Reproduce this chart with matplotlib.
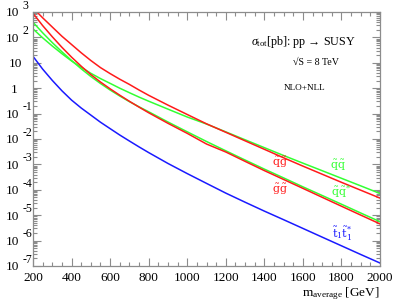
import matplotlib
matplotlib.use("Agg")
import matplotlib.pyplot as plt
from matplotlib.ticker import MultipleLocator, LogLocator, NullFormatter

plt.rcParams["font.family"] = ["Liberation Serif", "DejaVu Serif"]
plt.rcParams["mathtext.fontset"] = "custom"
plt.rcParams["mathtext.rm"] = "Liberation Serif"
plt.rcParams["mathtext.it"] = "Liberation Serif:italic"
plt.rcParams["mathtext.bf"] = "Liberation Serif:bold"

# m_average [GeV]
mass = [200, 250, 300, 350, 400, 450, 500, 550, 600, 650, 700, 750, 800, 900, 1000,
        1100, 1200, 1300, 1400, 1500, 1600, 1700, 1800, 1900, 2000]

# sigma_tot [pb]
xs_sqgl = [1435, 592, 256, 111, 52.5, 24.8, 12.3, 6.47, 3.76, 2.26, 1.41, 0.849, 0.525,
           0.216, 0.0923, 0.0396, 0.0184, 0.00849, 0.00393, 0.00182, 8.57e-4, 4.11e-4,
           1.97e-4, 9.64e-5, 4.71e-5]
xs_sqsq = [216, 96.4, 45.8, 22.8, 11.8, 6.65, 3.86, 2.39, 1.55, 1.00, 0.665, 0.447, 0.308,
           0.150, 0.0735, 0.0389, 0.0191, 0.00933, 0.00457, 0.00224, 0.00112, 5.65e-4,
           2.84e-4, 1.43e-4, 7.14e-5]
xs_glgl = [889, 292, 106, 40.7, 16.7, 7.35, 3.43, 1.75, 0.946, 0.530, 0.305, 0.180, 0.108,
           0.0415, 0.0167, 0.00635, 0.00308, 0.00132, 5.70e-4, 2.55e-4, 1.14e-4, 5.07e-5,
           2.26e-5, 1.01e-5, 4.54e-6]
xs_sqasq = [393, 152, 62.4, 27.1, 12.3, 5.81, 2.89, 1.53, 0.849, 0.493, 0.296, 0.185, 0.118,
            0.0467, 0.0192, 0.00798, 0.00343, 0.00149, 6.53e-4, 2.94e-4, 1.31e-4, 5.97e-5,
            2.71e-5, 1.22e-5, 5.55e-6]
xs_stst = [18.0, 5.65, 2.03, 0.791, 0.340, 0.166, 0.0873, 0.0458, 0.0256, 0.01435, 0.00834,
           0.00489, 0.00292, 0.00109, 4.35e-4, 1.79e-4, 7.41e-5, 3.25e-5, 1.45e-5, 6.65e-6,
           3.02e-6, 1.37e-6, 6.24e-7, 2.84e-7, 1.31e-7]

decades = [3, 2, 1, 0, -1, -2, -3, -4, -5, -6, -7]

RED = "#ff1a1a"
GREEN = "#33ff33"
BLUE = "#1a1aff"
GREY = "#8c8c8c"

fig = plt.figure(figsize=(3.95, 3.03), dpi=100)
ax = fig.add_axes([33 / 395, 1 - 266 / 303, 347 / 395, 254 / 303])

ax.plot(mass, xs_sqsq, color=GREEN, lw=1.1)
ax.plot(mass, xs_sqasq, color=GREEN, lw=1.1)
ax.plot(mass, xs_sqgl, color=RED, lw=1.1)
ax.plot(mass, xs_glgl, color=RED, lw=1.1)
ax.plot(mass, xs_stst, color=BLUE, lw=1.1)

ax.set_yscale("log")
ax.set_xlim(200, 2000)
ax.set_ylim(1e-7, 1e3)

ax.xaxis.set_major_locator(MultipleLocator(200))
ax.xaxis.set_minor_locator(MultipleLocator(50))
ax.yaxis.set_major_locator(LogLocator(base=10, numticks=20))
ax.yaxis.set_minor_locator(LogLocator(base=10, subs=range(2, 10), numticks=20))
ax.yaxis.set_major_formatter(NullFormatter())
ax.yaxis.set_minor_formatter(NullFormatter())

for s in ax.spines.values():
    s.set_color(GREY)
    s.set_linewidth(0.9)
ax.tick_params(which="both", direction="in", top=True, right=True, color=GREY, width=0.8)
ax.tick_params(which="major", length=6)
ax.tick_params(which="minor", length=3)
ax.tick_params(axis="x", labelsize=9.5, pad=4)

# ROOT-style log labels: "10" with raised exponent
for n in decades:
    if n == 0:
        base, dx = "1", -11
    elif n == 1:
        base, dx = "10", -8
    else:
        base, dx = "10", -10
    ax.annotate(base, xy=(0, 10.0 ** n), xycoords=("axes fraction", "data"),
                xytext=(dx, -1), textcoords="offset points",
                ha="right", va="center", fontsize=9.5)
    if n not in (0, 1):
        ax.annotate(str(n), xy=(0, 10.0 ** n), xycoords=("axes fraction", "data"),
                    xytext=(-7.5, 4.5), textcoords="offset points",
                    ha="left", va="center", fontsize=8.5)

ax.set_xlabel(r"m$_{\rm average}$ [GeV]", fontsize=9.5, loc="right", labelpad=1)

ax.text(0.78, 0.882, r"$\sigma_{\rm tot}$[pb]: pp → SUSY", transform=ax.transAxes,
        ha="center", va="center", fontsize=8.7)
ax.text(0.815, 0.803, "√S = 8 TeV", transform=ax.transAxes,
        ha="center", va="center", fontsize=7.2)
ax.text(0.782, 0.701, "NLO+NLL", transform=ax.transAxes,
        ha="center", va="center", fontsize=6.6)

labels = [
    (0.712, 0.406, r"$\mathrm{\tilde{q}\tilde{g}}$", RED),
    (0.712, 0.303, r"$\mathrm{\tilde{g}\tilde{g}}$", RED),
    (0.880, 0.394, r"$\mathrm{\tilde{q}\tilde{q}}$", GREEN),
    (0.887, 0.291, r"$\mathrm{\tilde{q}\tilde{q}^{*}}$", GREEN),
    (0.890, 0.125, r"$\mathrm{\tilde{t}_1\tilde{t}_1^{*}}$", BLUE),
]
for lx, ly, txt, col in labels:
    ax.text(lx, ly, txt, transform=ax.transAxes, ha="center", va="center",
            fontsize=8, color=col, math_fontfamily="dejavuserif")

fig.savefig("out.png", dpi=100)
